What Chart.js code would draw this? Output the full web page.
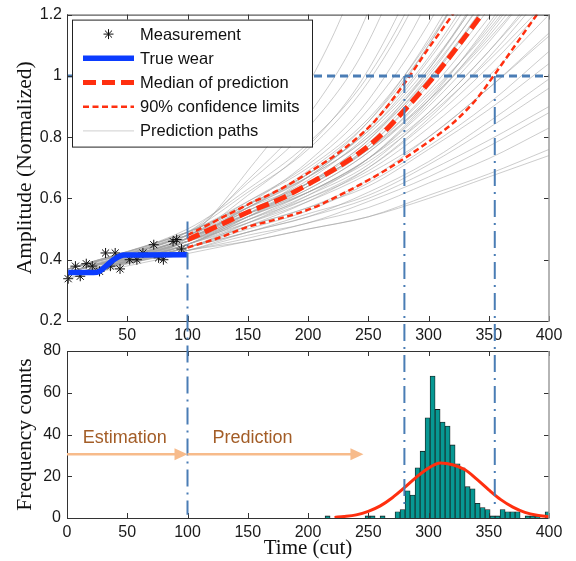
<!DOCTYPE html>
<html><head>
<meta charset="utf-8">
<title>Tool wear prediction</title>
<style>
  body { margin: 0; background: #fff; }
  #wrap { position: relative; width: 576px; height: 561px; }
  #wrap canvas { position: absolute; left: 0; top: 0; }
</style>
</head>
<body>
<div id="wrap">
  <canvas id="wear" width="576" height="561"></canvas>
  <canvas id="hist" width="576" height="561"></canvas>
</div>
<script src="https://cdn.jsdelivr.net/npm/chart.js"></script>
<script>
// upper panel: wear measurements, estimated wear and prediction paths
const measureTimes = [1, 7, 11, 16, 21, 27, 32, 36, 40, 44, 52, 58, 63, 72, 76, 80, 88, 91, 95];
const measureAmps  = [0.338, 0.379, 0.346, 0.387, 0.379, 0.362, 0.422, 0.379, 0.422, 0.370, 0.400, 0.400, 0.422, 0.449, 0.406, 0.400, 0.460, 0.466, 0.435];

const wearTimes = [1, 22, 27, 32, 37, 42, 47, 100];
const wearAmps  = [0.358, 0.358, 0.362, 0.378, 0.395, 0.408, 0.415, 0.416];

const medianTimes = [100, 125, 150, 177, 204, 232, 256, 280, 305, 325, 344, 360];
const medianAmps  = [0.465, 0.51, 0.555, 0.598, 0.655, 0.72, 0.79, 0.888, 1.0, 1.1, 1.2, 1.29];

const upperTimes = [100, 125, 150, 177, 204, 232, 256, 280, 300, 320, 335];
const upperAmps  = [0.48, 0.53, 0.58, 0.63, 0.693, 0.769, 0.855, 0.975, 1.09, 1.2, 1.29];

const lowerTimes = [100, 125, 150, 177, 204, 232, 260, 280, 300, 320, 340, 354, 372, 390, 405];
const lowerAmps  = [0.44, 0.47, 0.507, 0.535, 0.569, 0.622, 0.682, 0.731, 0.785, 0.845, 0.925, 1.0, 1.1, 1.2, 1.28];

const pathTimes = [1, 100, 150, 200, 250, 300, 350, 400];
const predictionPaths = [
  [0.36, 0.47, 0.56, 0.65, 0.78, 0.99, 1.25, 1.55],
  [0.35, 0.46, 0.55, 0.64, 0.77, 0.97, 1.22, 1.52],
  [0.37, 0.48, 0.57, 0.67, 0.80, 1.01, 1.27, 1.58],
  [0.36, 0.47, 0.55, 0.64, 0.76, 0.95, 1.19, 1.46],
  [0.35, 0.46, 0.54, 0.62, 0.73, 0.90, 1.11, 1.35],
  [0.36, 0.48, 0.56, 0.65, 0.76, 0.94, 1.15, 1.41],
  [0.35, 0.45, 0.52, 0.60, 0.70, 0.85, 1.03, 1.24],
  [0.36, 0.47, 0.54, 0.62, 0.73, 0.88, 1.08, 1.30],
  [0.35, 0.44, 0.51, 0.57, 0.66, 0.80, 0.96, 1.14],
  [0.36, 0.46, 0.53, 0.60, 0.69, 0.83, 1.00, 1.20],
  [0.37, 0.48, 0.58, 0.68, 0.82, 1.05, 1.34, 1.68],
  [0.36, 0.46, 0.55, 0.65, 0.79, 1.00, 1.28, 1.61],
  [0.37, 0.49, 0.59, 0.70, 0.86, 1.11, 1.43, 1.82],
  [0.36, 0.47, 0.57, 0.67, 0.83, 1.06, 1.37, 1.75],
  [0.35, 0.45, 0.54, 0.65, 0.79, 1.02, 1.32, 1.67],
  [0.37, 0.48, 0.59, 0.71, 0.89, 1.17, 1.55, 2.01],
  [0.36, 0.46, 0.57, 0.68, 0.85, 1.12, 1.48, 1.93],
  [0.35, 0.45, 0.53, 0.62, 0.73, 0.91, 1.14, 1.40],
  [0.37, 0.49, 0.58, 0.67, 0.80, 0.99, 1.24, 1.52],
  [0.35, 0.44, 0.52, 0.61, 0.73, 0.92, 1.17, 1.45],
  [0.37, 0.49, 0.57, 0.65, 0.76, 0.92, 1.12, 1.35],
  [0.36, 0.47, 0.55, 0.63, 0.75, 0.92, 1.13, 1.38],
  [0.35, 0.45, 0.54, 0.64, 0.77, 0.98, 1.25, 1.58],
  [0.36, 0.47, 0.57, 0.69, 0.85, 1.10, 1.44, 1.86],
  [0.37, 0.49, 0.62, 0.76, 0.98, 1.33, 1.83, 2.45],
  [0.36, 0.47, 0.61, 0.77, 1.02, 1.43, 2.03, 2.82],
  [0.37, 0.48, 0.66, 0.87, 1.21, 1.82, 2.77, 4.13],
  [0.37, 0.50, 0.63, 0.78, 1.00, 1.36, 1.87, 2.51],
  [0.36, 0.46, 0.58, 0.72, 0.92, 1.25, 1.72, 2.31],
  [0.37, 0.47, 0.69, 0.97, 1.45, 2.40, 4.00, 6.50],
  [0.37, 0.49, 0.65, 0.83, 1.11, 1.61, 2.33, 3.31],
  [0.35, 0.45, 0.55, 0.67, 0.83, 1.10, 1.45, 1.89],
  [0.35, 0.43, 0.49, 0.54, 0.62, 0.72, 0.85, 0.99],
  [0.35, 0.44, 0.49, 0.54, 0.60, 0.69, 0.79, 0.90],
  [0.34, 0.42, 0.46, 0.50, 0.54, 0.61, 0.68, 0.76],
  [0.35, 0.43, 0.47, 0.52, 0.57, 0.65, 0.73, 0.83],
  [0.35, 0.45, 0.51, 0.57, 0.64, 0.76, 0.89, 1.04],
  [0.35, 0.44, 0.49, 0.55, 0.61, 0.71, 0.83, 0.96],
  [0.34, 0.43, 0.46, 0.50, 0.54, 0.60, 0.67, 0.74],
  [0.36, 0.46, 0.52, 0.59, 0.68, 0.80, 0.96, 1.13],
  [0.35, 0.44, 0.50, 0.56, 0.65, 0.77, 0.91, 1.08],
  [0.35, 0.43, 0.48, 0.52, 0.59, 0.67, 0.77, 0.88],
  [0.36, 0.46, 0.54, 0.63, 0.75, 0.93, 1.16, 1.43],
  [0.37, 0.48, 0.55, 0.62, 0.72, 0.87, 1.05, 1.25],
  [0.35, 0.45, 0.53, 0.61, 0.71, 0.88, 1.08, 1.32],
  [0.36, 0.47, 0.56, 0.66, 0.81, 1.02, 1.31, 1.65],
  [0.37, 0.49, 0.58, 0.68, 0.82, 1.03, 1.30, 1.62],
  [0.35, 0.44, 0.51, 0.59, 0.70, 0.86, 1.06, 1.29]
];

const failThreshold = 1.0;
const markerTimes = [100, 280, 355];
const markerTopAmps = [0.525, 1.0, 1.0];
const markerBottomCounts = [1.5, 5.5, 5.5];

// lower panel: failure time histogram and fitted density
const binCenters = [216.25, 220.4, 224.55, 228.7, 232.85, 237.0, 241.15, 245.3, 249.45, 253.6,
  257.75, 261.9, 266.05, 270.2, 274.35, 278.5, 282.65, 286.8, 290.95, 295.1,
  299.25, 303.4, 307.55, 311.7, 315.85, 320.0, 324.15, 328.3, 332.45, 336.6,
  340.75, 344.9, 349.05, 353.2, 357.35, 361.5, 365.65, 369.8, 373.95, 378.1,
  382.25, 386.4, 390.55, 394.7, 398.85];
const binCounts = [1, 0, 0, 0, 0, 0, 0, 0, 1, 1, 0, 1, 0, 0, 3, 4, 13, 11, 24, 32,
  48, 68, 52, 46, 44, 35, 26, 24, 15, 14, 7, 5, 4, 1, 1, 4, 3, 3, 3, 0,
  1, 1, 1, 0, 3];

const fitTimes  = [222, 230, 240, 250, 260, 270, 280, 290, 300, 310, 320, 330, 340, 350, 360, 370, 380, 390, 400];
const fitCounts = [0.3, 0.7, 1.5, 3.2, 5.8, 9.7, 14.5, 19.6, 23.9, 26.3, 25.5, 23.2, 18.6, 13.5, 8.8, 5.2, 2.7, 1.3, 0.6];

const phaseNames = ['Estimation', 'Prediction'];
const phaseFrom = [0, 100];
const phaseTo = [100, 246];
const phaseNameAt = [48, 154];
const arrowCount = 30.5;
const phaseNameCount = 38.5;

const sans = "'Liberation Sans', Arial, sans-serif";
const serif = "'Liberation Serif', 'Times New Roman', serif";
const red = '#ff2f0f';
const steel = '#4a7db5';
const pathGray = 'rgba(160,160,160,0.6)';

Chart.defaults.font.family = sans;
Chart.defaults.color = '#1a1a1a';

const pairs = (xs, ys) => xs.map((x, i) => ({ x: x, y: ys[i] }));

function line(ctx, x0, y0, x1, y1) {
  ctx.beginPath();
  ctx.moveTo(x0, y0);
  ctx.lineTo(x1, y1);
  ctx.stroke();
}

function star(ctx, x, y, r) {
  const d = r * Math.SQRT1_2;
  line(ctx, x - r, y, x + r, y);
  line(ctx, x, y - r, x, y + r);
  line(ctx, x - d, y - d, x + d, y + d);
  line(ctx, x - d, y + d, x + d, y - d);
}

// axes box with inward tick marks, matlab style
const boxTicks = {
  id: 'boxTicks',
  afterDraw(chart) {
    const { ctx, chartArea: a, scales } = chart;
    ctx.save();
    ctx.strokeStyle = '#333';
    ctx.lineWidth = 1;
    scales.x.ticks.forEach(t => {
      const px = Math.round(scales.x.getPixelForValue(t.value)) + 0.5;
      line(ctx, px, a.bottom, px, a.bottom - 5);
      line(ctx, px, a.top, px, a.top + 5);
    });
    scales.y.ticks.forEach(t => {
      const py = Math.round(scales.y.getPixelForValue(t.value)) + 0.5;
      line(ctx, a.left, py, a.left + 5, py);
      line(ctx, a.right, py, a.right - 5, py);
    });
    line(ctx, a.left + 0.5, a.top, a.left + 0.5, a.bottom);
    line(ctx, a.left, a.top + 0.5, a.right, a.top + 0.5);
    line(ctx, a.left, a.bottom + 0.5, a.right, a.bottom + 0.5);
    ctx.strokeStyle = '#9d9d9d';
    ctx.lineWidth = 1.5;
    line(ctx, a.right, a.top, a.right, a.bottom + 1);
    ctx.restore();
  }
};

// failure threshold and legend box
const thresholdLegend = {
  id: 'thresholdLegend',
  afterDatasetsDraw(chart) {
    const { ctx, chartArea: a, scales } = chart;
    const y = scales.y.getPixelForValue(failThreshold);
    ctx.save();
    ctx.strokeStyle = steel;
    ctx.lineWidth = 3;
    ctx.setLineDash([8, 5]);
    line(ctx, a.left, y, a.right, y);
    ctx.restore();
  },
  afterDraw(chart) {
    const { ctx, chartArea: a } = chart;
    const items = chart.data.datasets.filter(d => d.label);
    const left = a.left + 5, top = a.top + 5, w = 240, h = 127;
    ctx.save();
    ctx.fillStyle = '#fff';
    ctx.fillRect(left, top, w, h);
    ctx.strokeStyle = '#222';
    ctx.lineWidth = 1;
    ctx.strokeRect(left + 0.5, top + 0.5, w, h);
    items.forEach((d, i) => {
      const y = top + 14.5 + i * 24.2;
      const x0 = left + 11, x1 = left + 62;
      ctx.save();
      if (d.showLine === false) {
        ctx.strokeStyle = '#111';
        ctx.lineWidth = 1;
        star(ctx, (x0 + x1) / 2, y, 5);
      } else {
        ctx.strokeStyle = d.legendColor || d.borderColor;
        ctx.lineWidth = Math.max(d.borderWidth, 1);
        ctx.setLineDash(d.borderDash || []);
        line(ctx, x0, y, x1, y);
      }
      ctx.restore();
      ctx.fillStyle = '#111';
      ctx.font = '16.5px ' + sans;
      ctx.textBaseline = 'middle';
      ctx.fillText(d.label, left + 68, y + 1);
    });
    ctx.restore();
  }
};

const wearSets = [
  { label: 'Measurement', data: pairs(measureTimes, measureAmps), showLine: false,
    pointStyle: 'star', pointRadius: 5, pointBorderColor: '#111', pointBorderWidth: 1,
    borderColor: '#111', order: 1, clip: false },
  { label: 'True wear', data: pairs(wearTimes, wearAmps), borderColor: '#0b3cff',
    borderWidth: 5.5, cubicInterpolationMode: 'monotone' },
  { label: 'Median of prediction', data: pairs(medianTimes, medianAmps), borderColor: red,
    borderWidth: 5, borderDash: [13, 6], cubicInterpolationMode: 'monotone', clip: 0 },
  { label: '90% confidence limits', data: pairs(upperTimes, upperAmps), borderColor: red,
    borderWidth: 2.5, borderDash: [6, 3.5], cubicInterpolationMode: 'monotone', clip: 0 },
  { label: '', data: pairs(lowerTimes, lowerAmps), borderColor: red,
    borderWidth: 2.5, borderDash: [6, 3.5], cubicInterpolationMode: 'monotone', clip: 0 }
].concat(predictionPaths.map((p, i) => ({
  label: i === 0 ? 'Prediction paths' : '',
  legendColor: '#cfcfcf',
  data: pairs(pathTimes, p),
  borderColor: pathGray,
  borderWidth: 0.9,
  cubicInterpolationMode: 'monotone',
  clip: 0,
  order: 2
})));

const wearChart = new Chart(document.getElementById('wear'), {
  type: 'line',
  data: { datasets: wearSets },
  options: {
    responsive: false,
    animation: false,
    events: [],
    layout: { padding: { top: 14, right: 27, left: 0, bottom: 0 } },
    elements: { point: { radius: 0 }, line: { borderCapStyle: 'butt' } },
    plugins: { legend: { display: false }, tooltip: { enabled: false } },
    scales: {
      x: {
        type: 'linear', min: 0, max: 400,
        afterFit: s => { s.height = 240; },
        grid: { display: false, drawTicks: false },
        border: { display: false },
        ticks: { stepSize: 50, padding: 5, font: { size: 16 },
                 callback: v => v === 0 ? '' : v }
      },
      y: {
        min: 0.2, max: 1.2,
        afterFit: s => { s.width = 67; },
        grid: { display: false, drawTicks: false },
        border: { display: false },
        ticks: { stepSize: 0.2, padding: 5, font: { size: 16 },
                 callback: v => String(Math.round(v * 10) / 10) },
        title: { display: true, text: 'Amplitude (Normalized)', color: '#111',
                 font: { family: serif, size: 21.5 }, padding: { top: 12, bottom: 0 } }
      }
    }
  },
  plugins: [thresholdLegend, boxTicks]
});

// dash-dot markers across both panels, phase arrows
const phaseMarks = {
  id: 'phaseMarks',
  afterDraw(chart) {
    const { ctx, scales } = chart;
    ctx.save();
    ctx.strokeStyle = steel;
    ctx.lineWidth = 2;
    ctx.setLineDash([17, 6, 2, 6]);
    markerTimes.forEach((t, i) => {
      const x = scales.x.getPixelForValue(t);
      line(ctx, x, wearChart.scales.y.getPixelForValue(markerTopAmps[i]),
               x, scales.y.getPixelForValue(markerBottomCounts[i]));
    });
    ctx.setLineDash([]);
    const ya = scales.y.getPixelForValue(arrowCount);
    const yt = scales.y.getPixelForValue(phaseNameCount);
    phaseNames.forEach((name, i) => {
      const x0 = scales.x.getPixelForValue(phaseFrom[i]);
      const x1 = scales.x.getPixelForValue(phaseTo[i]);
      ctx.strokeStyle = '#f7bb8b';
      ctx.fillStyle = '#f7bb8b';
      ctx.lineWidth = 2.5;
      line(ctx, x0, ya, x1 - 12, ya);
      ctx.beginPath();
      ctx.moveTo(x1, ya);
      ctx.lineTo(x1 - 13, ya - 6);
      ctx.lineTo(x1 - 13, ya + 6);
      ctx.closePath();
      ctx.fill();
      ctx.fillStyle = '#a35d27';
      ctx.font = '18px ' + sans;
      ctx.textAlign = 'center';
      ctx.textBaseline = 'middle';
      ctx.fillText(name, scales.x.getPixelForValue(phaseNameAt[i]), yt);
    });
    ctx.restore();
  }
};

const histChart = new Chart(document.getElementById('hist'), {
  type: 'bar',
  data: {
    datasets: [
      { type: 'line', data: pairs(fitTimes, fitCounts), borderColor: red, borderWidth: 3,
        cubicInterpolationMode: 'monotone', pointRadius: 0, order: 0 },
      { type: 'bar', data: pairs(binCenters, binCounts), backgroundColor: '#079893',
        borderColor: '#1b1b1b', borderWidth: 0.8, barPercentage: 1, categoryPercentage: 1,
        order: 1 }
    ]
  },
  options: {
    responsive: false,
    animation: false,
    events: [],
    layout: { padding: { top: 351, right: 27, left: 0, bottom: 0 } },
    plugins: { legend: { display: false }, tooltip: { enabled: false } },
    scales: {
      x: {
        type: 'linear', min: 0, max: 400, offset: false,
        afterFit: s => { s.height = 43; },
        grid: { display: false, drawTicks: false },
        border: { display: false },
        ticks: { stepSize: 50, padding: 5, font: { size: 16 } },
        title: { display: true, text: 'Time (cut)', color: '#111',
                 font: { family: serif, size: 21 }, padding: { top: 0, bottom: 0 } }
      },
      y: {
        min: 0, max: 80,
        afterFit: s => { s.width = 67; },
        grid: { display: false, drawTicks: false },
        border: { display: false },
        ticks: { stepSize: 20, padding: 6, font: { size: 16 } },
        title: { display: true, text: 'Frequency counts', color: '#111',
                 font: { family: serif, size: 21.5 }, padding: { top: 12, bottom: 0 } }
      }
    }
  },
  plugins: [boxTicks, phaseMarks]
});
</script>
</body></html>
